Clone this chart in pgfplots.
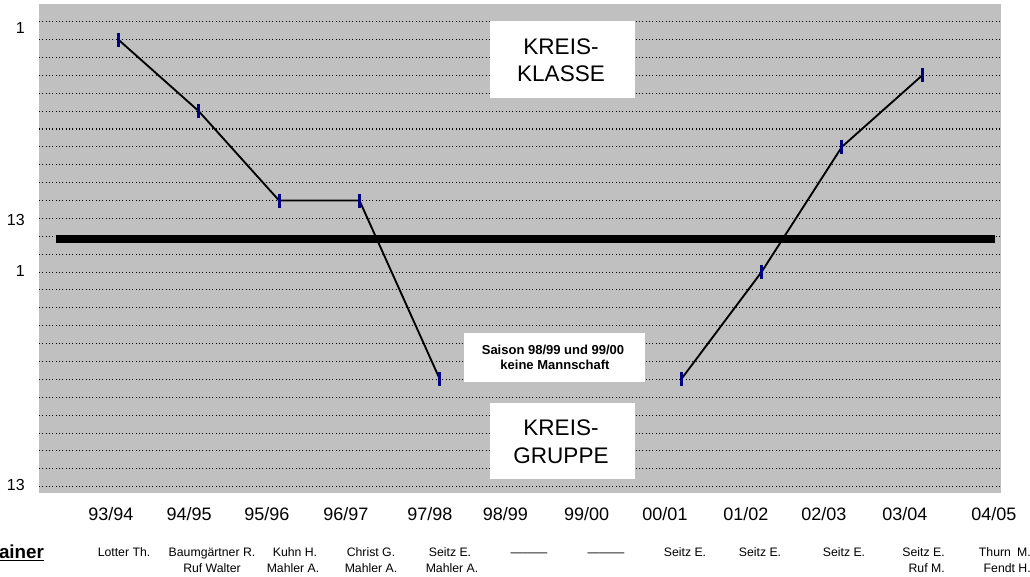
\documentclass[border=0pt]{standalone}
\usepackage{pgfplots}
\pgfplotsset{compat=1.18}
\usepackage{fontspec}
\setmainfont{Liberation Sans}
\definecolor{plotgray}{RGB}{192,192,192}
\definecolor{markblue}{RGB}{0,0,128}

\begin{document}
\begin{tikzpicture}
\begin{axis}[
  at={(29.25pt,-369.525pt)}, anchor=south west,
  scale only axis, width=721.3pt, height=366.7pt,
  xmin=-0.986, xmax=10.976, ymin=-1.0, ymax=26.335, y dir=reverse,
  axis background/.style={fill=plotgray},
  axis line style={draw=none},
  xtick={-0.093,0.882,1.849,2.830,3.877,4.816,5.826,6.800,7.805,8.777,9.785,10.891},
  xticklabels={93/94,94/95,95/96,96/97,97/98,98/99,99/00,00/01,01/02,02/03,03/04,04/05},
  ytick={0.37,11.09,13.93,25.91}, yticklabels={1,13,1,13},
  minor ytick={0,1,...,26},
  yminorgrids=true, ymajorgrids=false, xmajorgrids=false,
  minor grid style={black, line width=0.8pt, dash pattern=on 0.8pt off 1.7pt},
  major tick length=0pt, minor tick length=0pt,
  tick style={draw=none},
  xticklabel style={font=\fontsize{13.5}{16}\selectfont, anchor=base, yshift=-20.8pt, inner sep=0pt},
  yticklabel style={font=\fontsize{12}{14}\selectfont, anchor=east, xshift=-10.5pt, inner sep=0pt},
  /pgf/number format/assume math mode=true,
  clip=false,
  unbounded coords=jump,
]
% separator line between the two leagues
\addplot[black, line width=6pt, line cap=butt] coordinates {(-0.775,12.16) (10.904,12.16)};
% placement
\addplot[black, line width=1.4pt, mark=|, mark size=5.25pt,
  mark options={draw=markblue, line width=2.3pt, solid}]
  coordinates {(0,1) (1,5) (2,10) (3,10) (4,20) (5,nan) (6,nan) (7,20) (8,14) (9,7) (10,3)};
\end{axis}
\begin{scope}[x=0.75pt,y=-0.75pt]
  % text boxes
  \fill[white] (490,20.7) rectangle (635,97.7);
  \fill[white] (464,333) rectangle (645,382);
  \fill[white] (490,403) rectangle (635,479);
  \begin{scope}[every node/.style={anchor=base, inner sep=0pt, font=\fontsize{16.9}{20}\selectfont}]
    \node at (561,54.8) {KREIS-};
    \node at (561,82) {KLASSE};
    \node at (561,435) {KREIS-};
    \node at (561,463) {GRUPPE};
  \end{scope}
  \begin{scope}[every node/.style={anchor=base, inner sep=0pt, font=\fontsize{9.75}{12}\selectfont\bfseries}]
    \node at (553,354.7) {Saison 98/99 und 99/00};
    \node at (555,369.7) {keine Mannschaft};
  \end{scope}
  % trainers
  \node[anchor=base west, inner sep=0pt, font=\fontsize{14.1}{17}\selectfont\bfseries] at (-19,558) {\underline{Trainer}};
  \begin{scope}[every node/.style={anchor=base, inner sep=0pt, font=\fontsize{9.2}{11}\selectfont}]
    \node at (124,556.4) {Lotter Th.};
    \node at (212,556.4) {Baumgärtner R.};
    \node at (295,556.4) {Kuhn H.};
    \node at (371,556.4) {Christ G.};
    \node at (450,556.4) {Seitz E.};
    \node at (529,556.4) {———};
    \node at (606,556.4) {———};
    \node at (685,556.4) {Seitz E.};
    \node at (760,556.4) {Seitz E.};
    \node at (844,556.4) {Seitz E.};
    \node[anchor=base east] at (945,556.4) {Seitz E.};
    \node[anchor=base east] at (1031,556.4) {Thurn\hspace{0.5em}M.};
    \node at (212,572) {Ruf Walter};
    \node at (293,572) {Mahler A.};
    \node at (371,572) {Mahler A.};
    \node at (452,572) {Mahler A.};
    \node[anchor=base east] at (945,572) {Ruf M.};
    \node[anchor=base east] at (1031,572) {Fendt H.};
  \end{scope}
  \pgfresetboundingbox
  \path[use as bounding box] (0,0) rectangle (1030,577);
\end{scope}
\end{tikzpicture}
\end{document}
